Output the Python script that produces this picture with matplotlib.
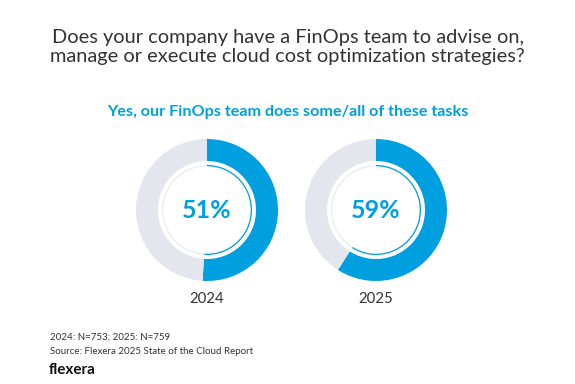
import matplotlib
matplotlib.use("Agg")
import matplotlib.pyplot as plt

# data
years = ["2024", "2025"]
shares = [51, 59]
notes = ["2024: N=753; 2025: N=759", "Source: Flexera 2025 State of the Cloud Report"]
title = "Does your company have a FinOps team to advise on,\nmanage or execute cloud cost optimization strategies?"
subtitle = "Yes, our FinOps team does some/all of these tasks"

BLUE = "#009fdf"
GRAY = "#e4e6ed"
TEXT = "#333333"

plt.rcParams["font.family"] = ["Lato", "DejaVu Sans"]

W, H = 575, 384
fig = plt.figure(figsize=(W / 100, H / 100), dpi=100)
ax = fig.add_axes([0, 0, 1, 1])

centers_x = [207, 376]
cy = H - 210

for x, yr, val in zip(centers_x, years, shares):
    # thick outer ring
    ax.pie([val, 100 - val], colors=[BLUE, GRAY], startangle=90,
           counterclock=False, radius=71, center=(x, cy),
           wedgeprops=dict(width=22, linewidth=0), frame=True)
    # thin inner ring
    ax.pie([val, 100 - val], colors=[BLUE, "#e9ebf0"], startangle=90,
           counterclock=False, radius=45, center=(x, cy),
           wedgeprops=dict(width=1.3, linewidth=0), frame=True)
    ax.text(x, cy, f"{val}%", ha="center", va="center", fontsize=18,
            fontweight="bold", color=BLUE)
    ax.text(x, H - 299, yr, ha="center", va="center", fontsize=10.8, color=TEXT)

ax.text(W / 2, H - 47, title, ha="center", va="center", fontsize=14.4,
        color=TEXT, linespacing=1.2)
ax.text(W / 2, H - 112, subtitle, ha="center", va="center", fontsize=11.6,
        fontweight="bold", color=BLUE)

ax.text(50, H - 337, notes[0], ha="left", va="center", fontsize=7.0, color=TEXT)
ax.text(50, H - 352, notes[1], ha="left", va="center", fontsize=7.0, color=TEXT)
ax.text(49, H - 370, "flexera", ha="left", va="center", fontsize=11,
        fontweight="bold", color="#111111")

ax.set_xlim(0, W)
ax.set_ylim(0, H)
ax.set_aspect("equal")
ax.axis("off")

fig.savefig("out.png", dpi=100)
